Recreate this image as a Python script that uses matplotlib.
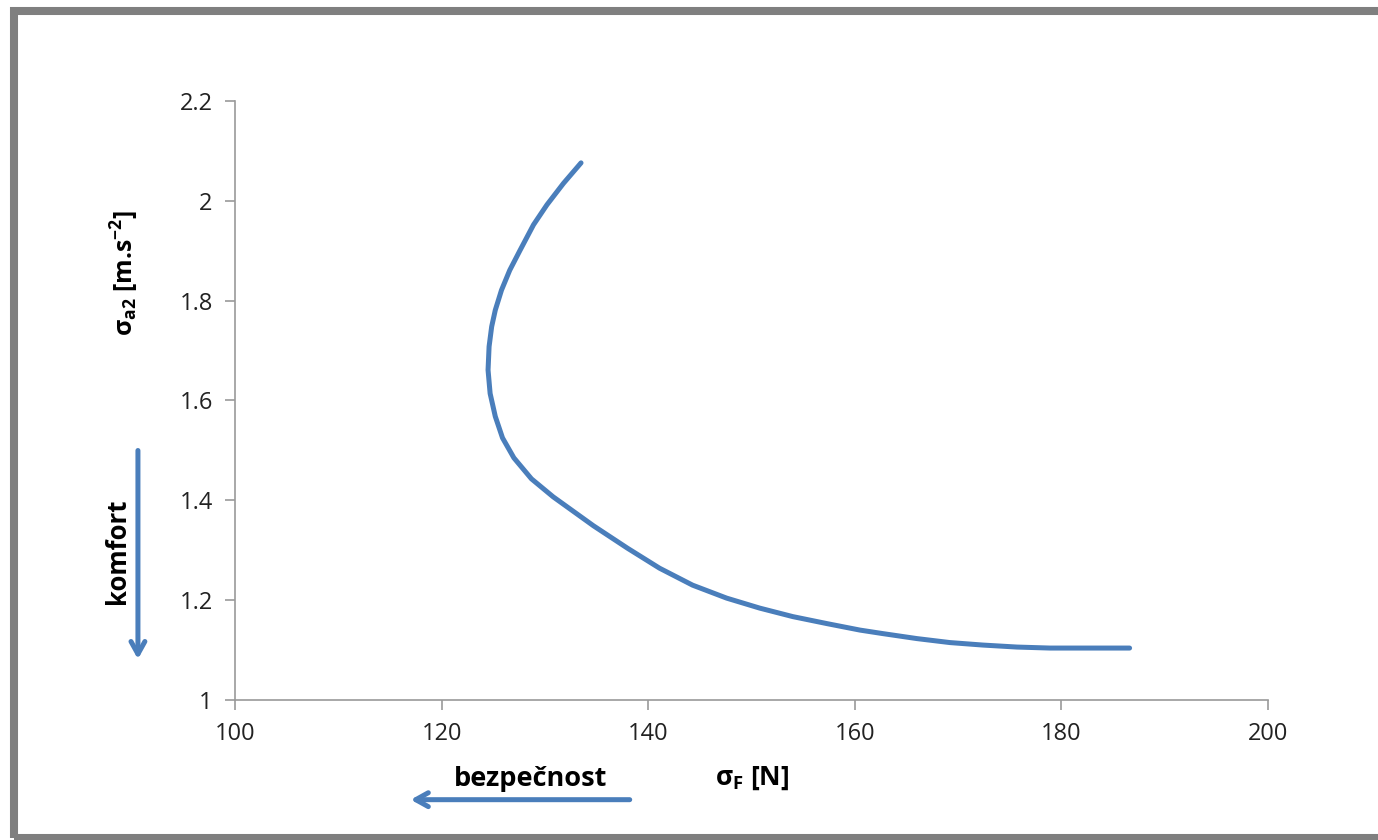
import matplotlib
matplotlib.use("Agg")
import matplotlib.pyplot as plt
from matplotlib.patches import Rectangle

plt.rcParams['font.family'] = ['Open Sans', 'DejaVu Sans']
plt.rcParams['mathtext.fontset'] = 'custom'
plt.rcParams['mathtext.rm'] = 'Open Sans'
plt.rcParams['mathtext.bf'] = 'Open Sans:bold'

# Curve: sigma_F [N] vs sigma_a2 [m.s-2]
sigma_f = [133.5, 131.8, 130.2, 128.9, 127.6, 126.6, 125.8, 125.2, 124.85,
           124.6, 124.5, 124.7, 125.2, 125.9, 127.0, 128.7, 130.8, 132.75,
           134.7, 138.0, 141.1, 144.3, 147.6, 150.8, 154.0, 157.3, 160.5,
           162.7, 166.0, 169.2, 172.4, 175.7, 178.9, 186.6]
sigma_a2 = [2.076, 2.035, 1.992, 1.952, 1.901, 1.861, 1.821, 1.781, 1.748,
            1.708, 1.661, 1.614, 1.568, 1.525, 1.485, 1.443, 1.407, 1.378,
            1.349, 1.304, 1.264, 1.230, 1.204, 1.184, 1.167, 1.153, 1.140,
            1.133, 1.123, 1.115, 1.110, 1.106, 1.104, 1.104]

xticks = [100, 120, 140, 160, 180, 200]
yticks = [1, 1.2, 1.4, 1.6, 1.8, 2, 2.2]
ytick_labels = ["1", "1.2", "1.4", "1.6", "1.8", "2", "2.2"]

blue = "#4A7EBB"
axis_gray = "#9a9a9a"

fig = plt.figure(figsize=(13.78, 8.4), dpi=100)
ax = fig.add_axes([0.1705, 0.1667, 0.7497, 0.7131])

ax.plot(sigma_f, sigma_a2, color=blue, linewidth=3.6,
        solid_capstyle="round", solid_joinstyle="round")

ax.set_xlim(100, 200)
ax.set_ylim(1, 2.2)
ax.set_xticks(xticks)
ax.set_yticks(yticks)
ax.set_yticklabels(ytick_labels)
for s in ["top", "right"]:
    ax.spines[s].set_visible(False)
for s in ["left", "bottom"]:
    ax.spines[s].set_color(axis_gray)
    ax.spines[s].set_linewidth(1.2)
ax.tick_params(direction="out", length=7, width=1.2, color=axis_gray,
               labelsize=17, labelcolor="#222222", pad=9)

# axis titles
fig.text(0.0900, 0.675, r"σ$_{\mathbf{a2}}$ [m.s$^{\mathbf{-2}}$]", rotation=90,
         ha="center", va="center", fontsize=18, fontweight="bold")
fig.text(0.546, 0.073, r"σ$_{\mathbf{F}}$ [N]", ha="center", va="center",
         fontsize=19, fontweight="bold")

# direction hints
fig.text(0.0856, 0.344, "komfort", rotation=90, ha="center", va="center",
         fontsize=18.5, fontweight="bold")
fig.text(0.385, 0.073, "bezpečnost", ha="center", va="center",
         fontsize=19.5, fontweight="bold")
ax.annotate("", xy=(0.1001, 0.212), xytext=(0.1001, 0.467),
            xycoords="figure fraction", textcoords="figure fraction",
            arrowprops=dict(arrowstyle="->,head_length=0.9,head_width=0.5",
                            color=blue, lw=3.6))
ax.annotate("", xy=(0.296, 0.048), xytext=(0.459, 0.048),
            xycoords="figure fraction", textcoords="figure fraction",
            arrowprops=dict(arrowstyle="->,head_length=0.9,head_width=0.5",
                            color=blue, lw=3.6))

# gray frame around the chart
fig.patches.append(Rectangle((0.0102, 0.0024), 1.05, 0.9845, transform=fig.transFigure,
                             fill=False, edgecolor="#7f7f7f", linewidth=5.8))

fig.savefig("out.png", dpi=100)
